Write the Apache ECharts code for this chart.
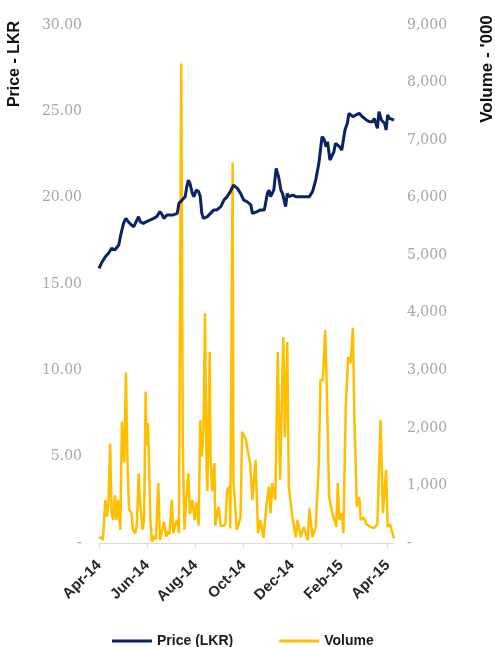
<!DOCTYPE html>
<html>
<head>
<meta charset="utf-8">
<script src="https://cdn.jsdelivr.net/npm/echarts@6/dist/echarts.min.js"></script>
<style>
html,body{margin:0;padding:0;background:#fff;}
#chart{width:495px;height:647px;}
</style>
</head>
<body>
<div id="chart"></div>
<script>
// ---- Data ----
const tickDates = ['2014-04-01','2014-06-01','2014-08-01','2014-10-01','2014-12-01','2015-02-01','2015-04-01'];
const tickLabels = ['Apr-14','Jun-14','Aug-14','Oct-14','Dec-14','Feb-15','Apr-15'];
const seriesNames = ['Price (LKR)','Volume'];
const leftAxisTitle = 'Price - LKR';
const rightAxisTitle = "Volume - '000";

const priceDates = [
 '2014-04-01','2014-04-04','2014-04-09','2014-04-13','2014-04-17','2014-04-21','2014-04-26','2014-04-28',
 '2014-05-02','2014-05-05','2014-05-08','2014-05-12','2014-05-15','2014-05-19','2014-05-21','2014-05-23','2014-05-27','2014-05-31',
 '2014-06-05','2014-06-09','2014-06-13','2014-06-17','2014-06-20','2014-06-22','2014-06-26','2014-06-30',
 '2014-07-04','2014-07-09','2014-07-11','2014-07-15','2014-07-19','2014-07-21','2014-07-23','2014-07-25','2014-07-28','2014-07-30',
 '2014-08-02','2014-08-05','2014-08-07','2014-08-09','2014-08-11','2014-08-16','2014-08-18','2014-08-20','2014-08-24','2014-08-28',
 '2014-09-02','2014-09-06','2014-09-10','2014-09-14','2014-09-18','2014-09-23','2014-09-27',
 '2014-10-01','2014-10-05','2014-10-10','2014-10-12','2014-10-14','2014-10-18','2014-10-22','2014-10-27','2014-10-29','2014-10-31',
 '2014-11-02','2014-11-04','2014-11-06','2014-11-08','2014-11-11','2014-11-14','2014-11-17','2014-11-19','2014-11-21','2014-11-23','2014-11-25','2014-11-27',
 '2014-12-02','2014-12-06','2014-12-10','2014-12-14','2014-12-18','2014-12-23','2014-12-27','2014-12-31',
 '2015-01-04','2015-01-08','2015-01-11','2015-01-13','2015-01-15','2015-01-18','2015-01-20','2015-01-23','2015-01-25','2015-01-30',
 '2015-02-02','2015-02-04','2015-02-06','2015-02-09','2015-02-11','2015-02-16','2015-02-20','2015-02-24','2015-02-28',
 '2015-03-05','2015-03-09','2015-03-13','2015-03-15','2015-03-19','2015-03-21','2015-03-24','2015-03-28','2015-03-30',
 '2015-04-01','2015-04-03','2015-04-05','2015-04-09'
];
const priceValues = [
 15.91,16.20,16.58,16.78,17.07,16.97,17.26,17.74,
 18.51,18.80,18.61,18.42,18.32,18.71,18.90,18.61,18.51,18.61,
 18.71,18.80,18.90,19.19,19.00,18.80,19.00,19.00,
 19.00,19.09,19.67,19.86,20.06,20.64,21.02,20.83,20.25,20.06,
 20.44,20.35,20.06,19.09,18.80,18.90,18.80,19.09,19.29,19.29,
 19.48,19.86,20.06,20.35,20.73,20.54,20.25,
 19.86,19.77,19.58,19.09,19.00,19.19,19.29,19.29,19.38,20.25,
 20.44,20.06,20.06,20.44,21.70,21.22,20.44,20.25,19.86,19.48,20.25,20.06,
 20.15,20.06,20.06,20.06,20.06,20.06,20.35,21.02,
 21.99,23.53,23.34,22.95,23.24,22.18,22.37,22.66,23.15,22.95,
 22.76,23.34,23.92,24.31,24.88,24.69,24.79,24.88,24.69,
 24.50,24.40,24.40,24.59,24.02,24.98,24.50,24.31,23.92,
 24.79,24.59,24.69,24.50
];

const volumeDates = [
 '2014-04-01','2014-04-04','2014-04-06','2014-04-09','2014-04-11','2014-04-13','2014-04-15','2014-04-17','2014-04-19','2014-04-21','2014-04-23','2014-04-25','2014-04-28','2014-04-30',
 '2014-05-03','2014-05-05','2014-05-07','2014-05-09','2014-05-12','2014-05-14','2014-05-17','2014-05-19','2014-05-21','2014-05-23','2014-05-26','2014-05-28','2014-05-30','2014-05-31',
 '2014-06-02','2014-06-05','2014-06-07','2014-06-10','2014-06-12','2014-06-15','2014-06-17','2014-06-20','2014-06-22','2014-06-25','2014-06-27','2014-06-29',
 '2014-07-02','2014-07-04','2014-07-07','2014-07-09','2014-07-11','2014-07-14','2014-07-16','2014-07-18','2014-07-20','2014-07-23','2014-07-25','2014-07-28','2014-07-31',
 '2014-08-02','2014-08-05','2014-08-07','2014-08-09','2014-08-11','2014-08-13','2014-08-15','2014-08-16','2014-08-19','2014-08-20','2014-08-22','2014-08-25','2014-08-26','2014-08-28','2014-08-30',
 '2014-09-02','2014-09-04','2014-09-06','2014-09-08','2014-09-10','2014-09-13','2014-09-14','2014-09-17','2014-09-18','2014-09-20','2014-09-22','2014-09-24','2014-09-27','2014-09-29',
 '2014-10-01','2014-10-04','2014-10-06','2014-10-09','2014-10-12','2014-10-16','2014-10-19','2014-10-22','2014-10-26','2014-10-30',
 '2014-11-02','2014-11-04','2014-11-06','2014-11-10','2014-11-13','2014-11-16','2014-11-20','2014-11-22','2014-11-25','2014-11-27',
 '2014-12-02','2014-12-06','2014-12-08','2014-12-12','2014-12-16','2014-12-21','2014-12-23','2014-12-27','2014-12-31',
 '2015-01-04','2015-01-06','2015-01-09','2015-01-12','2015-01-14','2015-01-17','2015-01-21','2015-01-26','2015-01-28','2015-01-30',
 '2015-02-02','2015-02-04','2015-02-07','2015-02-10','2015-02-13','2015-02-16','2015-02-18','2015-02-21','2015-02-24','2015-02-26',
 '2015-03-02','2015-03-05','2015-03-10','2015-03-15','2015-03-19','2015-03-23','2015-03-26','2015-03-30',
 '2015-04-01','2015-04-04','2015-04-07','2015-04-09'
];
const volumeValues = [
 80,100,50,750,460,690,1730,520,400,830,400,750,230,2110,
 1400,2960,1440,580,520,230,170,350,1210,700,230,400,2630,1700,
 2080,400,20,120,60,1040,50,230,370,110,200,150,
 750,170,350,400,170,8330,1620,230,700,1210,500,750,400,
 700,300,2140,1500,1960,3990,1320,900,3320,1500,900,1390,300,480,630,
 300,330,300,350,920,980,250,6610,1040,700,230,300,450,1930,
 1900,1790,1600,1390,750,1440,170,400,90,700,
 980,520,1040,750,3320,1100,3580,1840,3490,980,
 400,100,400,100,280,50,600,100,280,
 1390,2830,2830,3700,2710,800,520,280,1040,400,
 520,170,2370,3230,3120,3740,2140,630,800,400,
 450,330,280,260,330,2140,520,1270,
 280,330,170,80
];

// ---- Chart ----
const chart = echarts.init(document.getElementById('chart'), null, {renderer:'canvas'});
const toT = d => Date.UTC(+d.slice(0,4), +d.slice(5,7) - 1, +d.slice(8,10));
const tickTimes = tickDates.map(toT);
function labelFor(v){
  let best = 0, bd = Infinity;
  tickTimes.forEach((t,i)=>{ const dd = Math.abs(t - v); if (dd < bd){bd = dd; best = i;} });
  return tickLabels[best];
}

const option = {
  animation: false,
  backgroundColor: '#ffffff',
  grid: { left: 99, right: 101, top: 25, bottom: 104, containLabel: false },
  legend: {
    data: seriesNames,
    top: 634,
    left: 112,
    icon: 'rect',
    itemWidth: 40,
    itemHeight: 3,
    itemGap: 46,
    padding: 0,
    textStyle: { fontFamily: 'Liberation Sans, sans-serif', fontWeight: 'bold', fontSize: 14, color: '#1a1a1a' }
  },
  xAxis: {
    type: 'value',
    min: toT('2014-04-01'),
    max: toT('2015-04-09'),
    axisLine: { show: true, lineStyle: { color: '#d9d9d9', width: 1 } },
    axisTick: { show: true, customValues: tickTimes, length: 5, lineStyle: { color: '#d9d9d9' } },
    splitLine: { show: false },
    axisLabel: {
      customValues: tickTimes,
      rotate: 45,
      margin: 20,
      formatter: v => labelFor(v),
      fontFamily: 'Liberation Sans, sans-serif',
      fontWeight: 'bold',
      fontSize: 15,
      color: '#262626',
      showMinLabel: true,
      showMaxLabel: true
    }
  },
  yAxis: [
    {
      type: 'value', min: 0, max: 30, interval: 5, position: 'left',
      axisLine: { show: false }, axisTick: { show: false }, splitLine: { show: false },
      axisLabel: {
        margin: 17,
        formatter: v => v === 0 ? '-' : v.toFixed(2),
        fontFamily: 'DejaVu Serif, serif', fontSize: 14, color: '#a6a6a6'
      }
    },
    {
      type: 'value', min: 0, max: 9000, interval: 1000, position: 'right',
      axisLine: { show: false }, axisTick: { show: false }, splitLine: { show: false },
      axisLabel: {
        margin: 13,
        formatter: v => v === 0 ? '-' : v.toLocaleString('en-US'),
        fontFamily: 'DejaVu Serif, serif', fontSize: 14, color: '#a6a6a6'
      }
    }
  ],
  graphic: [
    { type: 'text', x: 15, y: 64, rotation: Math.PI / 2,
      style: { text: leftAxisTitle, font: 'bold 16px "Liberation Sans", sans-serif', fill: '#111', align: 'center', verticalAlign: 'middle' } },
    { type: 'text', x: 487, y: 69, rotation: Math.PI / 2,
      style: { text: rightAxisTitle, font: 'bold 17px "Liberation Sans", sans-serif', fill: '#111', align: 'center', verticalAlign: 'middle' } }
  ],
  series: [
    {
      name: seriesNames[1], type: 'line', yAxisIndex: 1, showSymbol: false, symbol: 'none',
      lineStyle: { color: '#FFBF00', width: 2.5 }, itemStyle: { color: '#FFBF00' },
      data: volumeDates.map((d,i) => [toT(d), volumeValues[i]]), z: 2
    },
    {
      name: seriesNames[0], type: 'line', yAxisIndex: 0, showSymbol: false, symbol: 'none',
      lineStyle: { color: '#0B2365', width: 3 }, itemStyle: { color: '#0B2365' },
      data: priceDates.map((d,i) => [toT(d), priceValues[i]]), z: 3
    }
  ]
};
chart.setOption(option);
</script>
</body>
</html>
